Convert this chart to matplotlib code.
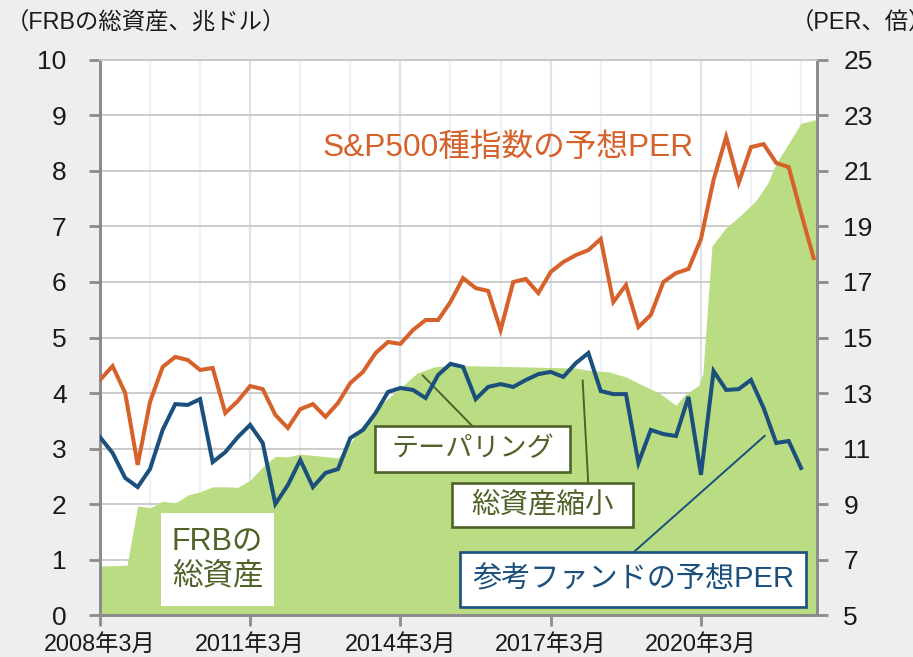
import numpy as np
import pandas as pd
import matplotlib
matplotlib.use("Agg")
import matplotlib.pyplot as plt
from matplotlib.patches import Rectangle

plt.rcParams['font.family'] = ['Liberation Sans', 'Noto Sans CJK JP']

# S&P500 forward PER and reference fund PER, quarterly from 2008-03
sp500_per = [13.47, 13.97, 13.00, 10.41, 12.68, 13.94, 14.30, 14.19, 13.83, 13.90,
             12.28, 12.71, 13.25, 13.14, 12.21, 11.74, 12.42, 12.60, 12.14, 12.64,
             13.36, 13.76, 14.44, 14.84, 14.77, 15.27, 15.63, 15.63, 16.28, 17.14,
             16.78, 16.68, 15.27, 17.00, 17.11, 16.60, 17.36, 17.72, 17.97, 18.15,
             18.55, 16.28, 16.89, 15.38, 15.81, 17.00, 17.32, 17.47, 18.55, 20.68,
             22.23, 20.57, 21.86, 21.97, 21.29, 21.14, 19.49, 17.86]
fund_per = [11.41, 10.84, 9.94, 9.61, 10.26, 11.67, 12.60, 12.57, 12.78, 10.51,
            10.87, 11.41, 11.85, 11.20, 9.00, 9.68, 10.59, 9.61, 10.12, 10.26,
            11.38, 11.67, 12.28, 13.04, 13.18, 13.11, 12.82, 13.65, 14.05, 13.94,
            12.78, 13.22, 13.32, 13.22, 13.47, 13.68, 13.76, 13.58, 14.08, 14.44,
            13.07, 12.96, 12.96, 10.48, 11.67, 11.52, 11.45, 12.86, 10.05, 13.79,
            13.11, 13.14, 13.47, 12.46, 11.20, 11.27, 10.30]

# FRB total assets (trillion USD)
frb_dates = ["2008-03-01", "2008-09-15", "2008-12-01", "2009-03-01", "2009-06-01",
             "2009-09-01", "2009-12-01", "2010-03-01", "2010-06-01", "2010-09-01",
             "2010-12-01", "2011-03-01", "2011-06-01", "2011-09-01", "2011-12-01",
             "2012-03-01", "2012-07-01", "2012-12-01", "2013-03-01", "2013-07-01",
             "2013-11-01", "2014-03-01", "2014-07-01", "2014-11-01", "2015-03-01",
             "2016-03-01", "2017-03-01", "2017-09-01", "2017-12-01", "2018-05-01",
             "2018-09-01", "2019-01-01", "2019-05-01", "2019-09-01", "2019-11-01",
             "2020-02-15", "2020-03-15", "2020-05-20", "2020-09-01", "2020-12-01",
             "2021-04-01", "2021-07-01", "2021-09-01", "2021-12-01", "2022-03-01",
             "2022-06-25"]
frb_assets = [0.88, 0.90, 1.97, 1.93, 2.05,
              2.02, 2.16, 2.22, 2.31, 2.31,
              2.30, 2.43, 2.67, 2.86, 2.85,
              2.90, 2.87, 2.83, 3.10, 3.51,
              3.84, 4.09, 4.36, 4.47, 4.50,
              4.48, 4.46, 4.45, 4.41, 4.38,
              4.29, 4.14, 4.00, 3.78, 3.96,
              4.14, 4.35, 6.65, 6.98, 7.17,
              7.45, 7.78, 8.14, 8.50, 8.86,
              8.93]

tick_dates = ["2008-03-01", "2011-03-01", "2014-03-01", "2017-03-01", "2020-03-01"]
tick_labels = ["2008年3月", "2011年3月", "2014年3月", "2017年3月", "2020年3月"]

BG = "#EDEEF0"
ORANGE = "#D6612A"
NAVY = "#1B4F7C"
GREEN = "#BADD84"
DKGREEN = "#4F6228"
SPINE = "#8C8C8C"

q_dates = pd.date_range("2008-03-01", periods=len(sp500_per), freq="3MS")
frb_x = pd.to_datetime(frb_dates)

fig = plt.figure(figsize=(9.13, 6.57), dpi=100, facecolor=BG)
ax = fig.add_axes([0.1095, 0.0639, 0.7853, 0.8448])
ax.set_facecolor("white")
ax2 = ax.twinx()

ax.fill_between(frb_x, frb_assets, 0, color=GREEN, lw=0, zorder=1)
ax.set_xlim(pd.Timestamp("2008-03-01"), pd.Timestamp("2022-06-25"))
ax.set_ylim(0, 10)
ax.set_yticks(range(0, 11))
ax.set_xticks(pd.to_datetime(tick_dates))
ax.set_xticklabels(tick_labels)
ax.set_xticks(pd.date_range("2009-03-01", "2022-03-01", freq="12MS"), minor=True)
ax.set_axisbelow(True)
ax.grid(axis='y', color='#C8C8C8', lw=1.3)
ax.grid(axis='x', which='major', color='#DCE3EC', lw=1.6)
ax.grid(axis='x', which='minor', color='#EEF1F5', lw=1.6)

ax2.plot(q_dates, sp500_per, color=ORANGE, lw=2.9, solid_joinstyle='miter', zorder=3)
ax2.plot(q_dates[:len(fund_per)], fund_per, color=NAVY, lw=2.9, solid_joinstyle='miter', zorder=3)
ax2.set_ylim(5, 25)
ax2.set_yticks(range(5, 26, 2))

for a in (ax, ax2):
    for s in ("left", "right", "bottom"):
        a.spines[s].set_color(SPINE)
        a.spines[s].set_linewidth(2)
    a.spines["top"].set_color("#C8C8C8")
    a.spines["top"].set_linewidth(1.3)

ax.tick_params(axis='y', length=8, width=2, color=SPINE, labelsize=19, pad=16, labelcolor='#1a1a1a')
ax.tick_params(axis='x', which='major', length=8, width=2, color=SPINE, labelsize=16.8, pad=5, labelcolor='#1a1a1a')
ax.tick_params(axis='x', which='minor', length=0)
ax2.tick_params(axis='y', length=8, width=2, color=SPINE, labelsize=19, pad=11, labelcolor='#1a1a1a')

fig.text(0.006, 0.965, "（FRBの総資産、兆ドル）", fontsize=16.8, va='center', color='#1a1a1a')
fig.text(0.866, 0.965, "（PER、倍）", fontsize=16.8, va='center', color='#1a1a1a')

T = ax2.transAxes
ax2.text(0.569, 0.841, "S&P500種指数の予想PER", transform=T, fontsize=22.8,
         color=ORANGE, ha='center', va='center')

# FRB label box
ax2.add_patch(Rectangle((0.085, 0.016), 0.158, 0.168, transform=T,
                        facecolor='white', edgecolor='none', zorder=4))
ax2.text(0.164, 0.1, "FRBの\n総資産", transform=T, fontsize=22, color=DKGREEN,
         ha='center', va='center', linespacing=1.2, zorder=5)

# annotation boxes with leader lines
boxes = [
    ("テーパリング", (0.384, 0.258, 0.272, 0.083), DKGREEN, (0.519, 0.341),
     (pd.Timestamp("2014-08-10"), 4.32), 19.5),
    ("総資産縮小", (0.491, 0.159, 0.252, 0.079), DKGREEN, (0.681, 0.238),
     (pd.Timestamp("2017-10-20"), 4.23), 20.5),
    ("参考ファンドの予想PER", (0.502, 0.0144, 0.483, 0.099), NAVY, (0.745, 0.114),
     (pd.Timestamp("2021-06-10"), 3.23), 21),
]
for label, (x0, y0, w, h), col, start, target, fs in boxes:
    ax2.add_patch(Rectangle((x0, y0), w, h, transform=T, facecolor='white',
                            edgecolor=col, lw=1.9, zorder=4))
    ax2.text(x0 + w / 2, y0 + h / 2, label, transform=T, fontsize=fs, color=col,
             ha='center', va='center', zorder=5)
    ax.annotate("", xy=target, xycoords='data', xytext=start, textcoords=T,
                arrowprops=dict(arrowstyle='-', color=col, lw=1.4,
                                shrinkA=0, shrinkB=0), zorder=2)

fig.savefig("out.png", dpi=100, facecolor=BG)
